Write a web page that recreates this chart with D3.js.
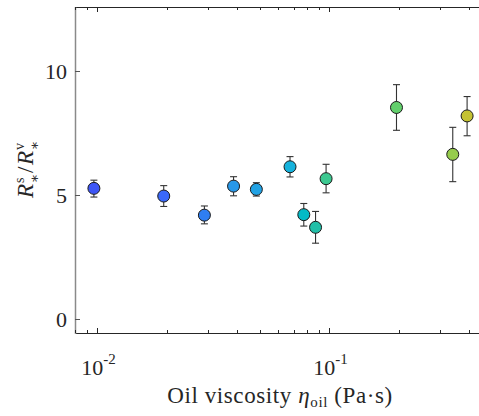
<!DOCTYPE html>
<html>
<head>
<meta charset="utf-8">
<script src="https://cdn.jsdelivr.net/npm/d3@7"></script>
<style>
  html, body { margin: 0; padding: 0; background: #fff; }
  svg text { font-family: "Liberation Serif", "Times New Roman", "DejaVu Serif", serif; }
</style>
</head>
<body>
<svg id="chart" width="479" height="416" font-family="Liberation Serif, DejaVu Serif, serif"></svg>
<script>
  // viscosity (Pa·s), ratio and error bar ends
  const viscosity = [0.00965, 0.0193, 0.0289, 0.0386, 0.0484, 0.0676, 0.0775, 0.0871, 0.0967, 0.1945, 0.340, 0.392];
  const ratio     = [5.27, 4.96, 4.19, 5.36, 5.23, 6.14, 4.21, 3.70, 5.66, 8.53, 6.64, 8.19];
  const errHigh   = [5.60, 5.38, 4.56, 5.74, 5.50, 6.55, 4.66, 4.34, 6.24, 9.45, 7.73, 8.97];
  const errLow    = [4.92, 4.54, 3.84, 4.97, 4.96, 5.73, 3.75, 3.06, 5.09, 7.61, 5.54, 7.39];
  const colors    = ["#3e56f5", "#3a68f8", "#2f7ef2", "#2898e8", "#22a2e4", "#15b2dc", "#04bac6", "#22bfa8",
                     "#3cc890", "#62cf6c", "#96cc4c", "#c4c232"];
  const yTicks = [0, 5, 10];
  const xTicks = [0.01, 0.1];
  const xMinor = [0.008, 0.009, 0.02, 0.03, 0.04, 0.05, 0.06, 0.07, 0.08, 0.09, 0.2, 0.3, 0.4];

  const svg = d3.select("#chart");
  const L = 75, R = 481, T = 7, B = 333;
  const ink = "#262626";

  const x = d3.scaleLog().domain([0.008, 0.45]).range([L, R]);
  const y = d3.scaleLinear().domain([-0.56, 12.58]).range([B, T]);

  // box: top and bottom dark, left grey
  svg.append("line").attr("x1", L).attr("x2", R).attr("y1", T + 0.5).attr("y2", T + 0.5)
    .attr("stroke", ink).attr("stroke-width", 1.2);
  svg.append("line").attr("x1", L).attr("x2", R).attr("y1", B + 0.5).attr("y2", B + 0.5)
    .attr("stroke", ink).attr("stroke-width", 1.2);
  svg.append("line").attr("x1", L + 0.5).attr("x2", L + 0.5).attr("y1", T).attr("y2", B + 1)
    .attr("stroke", "#8a8a8a").attr("stroke-width", 1.5);

  // x ticks (inward, top and bottom)
  const ticks = svg.append("g").attr("stroke", ink).attr("stroke-width", 1);
  xTicks.concat(xMinor).forEach(v => {
    const len = xTicks.includes(v) ? 5 : 3;
    const px = Math.round(x(v)) + 0.5;
    ticks.append("line").attr("x1", px).attr("x2", px).attr("y1", B).attr("y2", B - len);
    ticks.append("line").attr("x1", px).attr("x2", px).attr("y1", T).attr("y2", T + len);
  });

  // y ticks
  yTicks.forEach(v => {
    const py = Math.round(y(v)) + 0.5;
    svg.append("line").attr("x1", L).attr("x2", L + 5).attr("y1", py).attr("y2", py)
      .attr("stroke", "#555").attr("stroke-width", 1);
    svg.append("text").attr("x", L - 8).attr("y", py + 7).attr("text-anchor", "end")
      .attr("font-size", 22).attr("fill", ink).text(v);
  });

  // x tick labels 10^-2, 10^-1
  xTicks.forEach(v => {
    const t = svg.append("text").attr("x", x(v) + 1).attr("y", B + 42).attr("text-anchor", "middle")
      .attr("font-size", 22).attr("fill", ink);
    t.append("tspan").text("10");
    t.append("tspan").attr("font-size", 15).attr("dy", -11).text(String(Math.round(Math.log10(v))));
  });

  // x label
  const xl = svg.append("text").attr("x", 280).attr("y", 403).attr("text-anchor", "middle")
    .attr("font-size", 23).attr("letter-spacing", 0.6).attr("fill", ink);
  xl.append("tspan").text("Oil viscosity ");
  xl.append("tspan").attr("font-style", "italic").text("η");
  xl.append("tspan").attr("font-size", 15).attr("dy", 4).text("oil");
  xl.append("tspan").attr("dy", -4).text(" (Pa·s)");

  // y label  R^s_* / R^v_*
  const yl = svg.append("g").attr("transform", "translate(33,167) rotate(-90)")
    .attr("fill", ink);
  const part = (tx, ty, s, size, italic) => yl.append("text").attr("x", tx).attr("y", ty)
    .attr("font-size", size).attr("font-style", italic ? "italic" : "normal").text(s);
  part(-31, 0, "R", 23, true);
  part(-16, -9, "s", 14, false);
  part(-16, 6, "∗", 14, false);
  part(-6, 0, "/", 23, false);
  part(2, 0, "R", 23, true);
  part(17, -9, "v", 14, false);
  part(17, 6, "∗", 14, false);

  // error bars
  const eb = svg.append("g").attr("stroke", "#333").attr("stroke-width", 1.1);
  viscosity.forEach((v, i) => {
    const px = x(v);
    eb.append("line").attr("x1", px).attr("x2", px).attr("y1", y(errLow[i])).attr("y2", y(errHigh[i]));
    [errLow[i], errHigh[i]].forEach(e => {
      eb.append("line").attr("x1", px - 3.5).attr("x2", px + 3.5).attr("y1", y(e)).attr("y2", y(e));
    });
  });

  // markers
  svg.append("g").selectAll("circle").data(viscosity).join("circle")
    .attr("cx", d => x(d))
    .attr("cy", (d, i) => y(ratio[i]))
    .attr("r", 6)
    .attr("fill", (d, i) => colors[i])
    .attr("stroke", "#1a1a1a")
    .attr("stroke-width", 1);
</script>
</body>
</html>
